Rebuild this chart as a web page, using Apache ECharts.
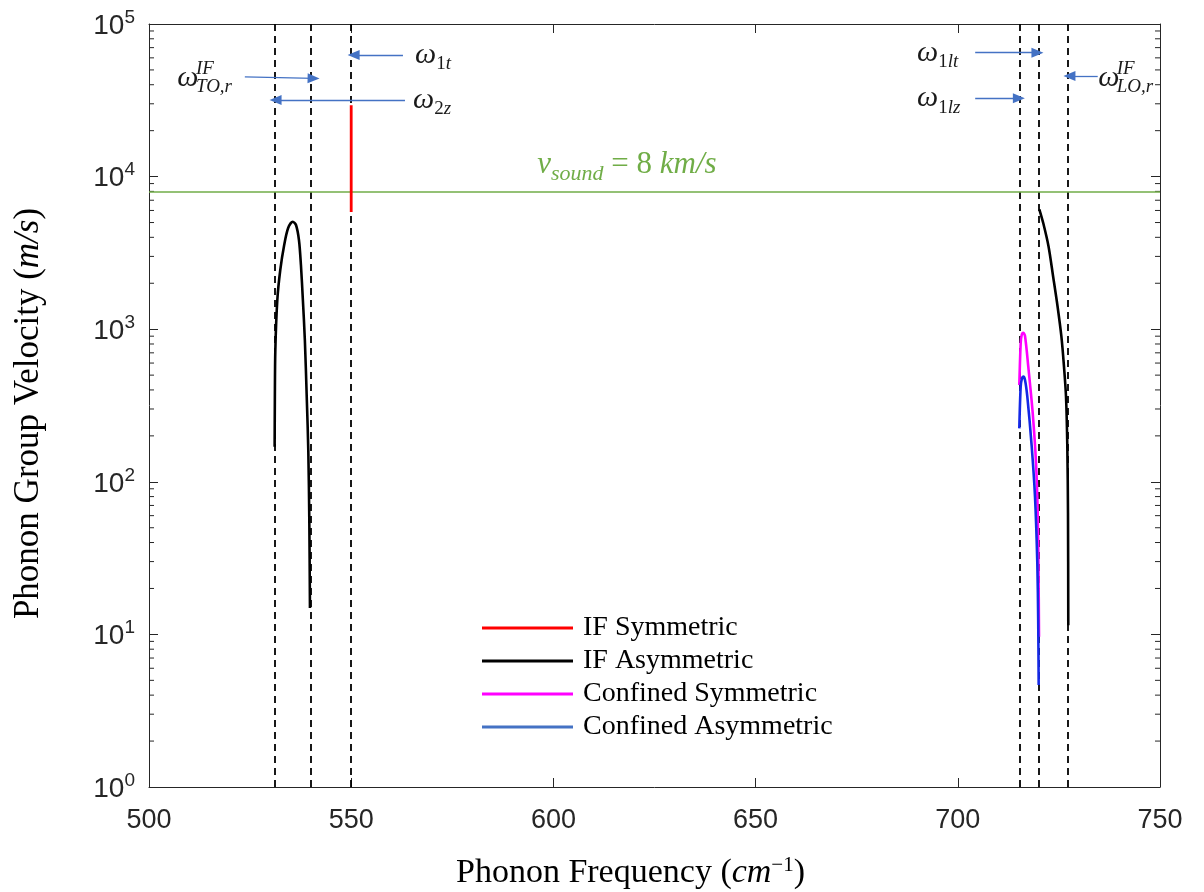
<!DOCTYPE html>
<html>
<head>
<meta charset="utf-8">
<script src="https://cdn.jsdelivr.net/npm/echarts@6/dist/echarts.min.js"></script>
<style>
html,body{margin:0;padding:0;background:#fff;}
#chart{width:1204px;height:892px;}
</style>
</head>
<body>
<div id="chart"></div>
<script>
// ---------------- DATA ----------------
const xTicks = [500, 550, 600, 650, 700, 750];
const yTickExponents = [0, 1, 2, 3, 4, 5];

// IF Symmetric (red)
const ifSymFreq = [550, 550];
const ifSymVel  = [5860, 29400];

// IF Asymmetric (black) - lower branch near 531-540
const ifAsymLowFreq = [531.07, 531.12, 531.24, 531.73, 532.46, 533.43, 534.41, 535.55, 536.35, 537.08, 537.57, 538.05, 538.54, 539.03, 539.39, 539.64, 539.8];
const ifAsymLowVel  = [170, 344, 731, 1553, 2443, 3564, 4603, 5064, 4818, 3841, 2634, 1553, 849, 344, 161, 56.2, 14.9];

// IF Asymmetric (black) - upper branch near 720-727
const ifAsymHighFreq = [720.16, 721.14, 722.45, 723.58, 724.68, 725.62, 726.26, 726.76, 727.08, 727.25, 727.32];
const ifAsymHighVel  = [6106, 4943, 3474, 2208, 1404, 893, 568, 361, 170, 62.2, 11.5];

// Confined Symmetric (magenta)
const confSymFreq = [715.21, 715.55, 715.8, 716.2, 716.62, 717.43, 718.52, 719.34, 719.76, 719.96, 720.08];
const confSymVel  = [431, 808, 916, 948, 902, 568, 283, 133, 62.5, 26.4, 9.66];

// Confined Asymmetric (blue)
const confAsymFreq = [715.21, 715.55, 715.87, 716.2, 716.62, 717.19, 718.28, 719.09, 719.66, 719.88, 720.0];
const confAsymVel  = [224, 420, 477, 489, 465, 361, 170, 79.8, 29.4, 12.4, 4.66];

// reference lines
const dashedFreqs = [531, 540, 550, 715.3, 720.1, 727.3];
const soundSpeed = 8000;

// annotation arrows: [fromFreq, fromVel, toFreq, toVel]
const arrows = [
  [562.8, 62650, 550.6, 62650],   // omega_1t
  [523.7, 45000, 540.7, 44000],   // omega_TO,r^IF
  [563.3, 31770, 531.3, 31770],   // omega_2z
  [704.3, 64860, 719.7, 64860],   // omega_1lt
  [704.3, 32600, 715.1, 32600],   // omega_1lz
  [734.6, 45620, 727.6, 45620]    // omega_LO,r^IF
];
// annotation labels: [freq, vel, subscript-digit, subscript-letters]
const omegaLabels = [
  [565.8, 62650, '1', 't'],
  [565.3, 31770, '2', 'z'],
  [689.9, 64860, '1', 'lt'],
  [689.9, 32600, '1', 'lz']
];
const omegaIFLabels = [
  [507.0, 44280, 'TO,r'],
  [734.7, 44280, 'LO,r']
];
const soundLabelPos = [596, 11900];

// ---------------- HELPERS ----------------
function pairs(xs, ys) { return xs.map((x, i) => [x, ys[i]]); }

const minorTickVals = [];
for (let e = yTickExponents[0]; e < yTickExponents[yTickExponents.length - 1]; e++) {
  for (let m = 2; m <= 9; m++) minorTickVals.push([500, m * Math.pow(10, e)]);
}

const AX = '#262626';
const serif = 'Liberation Serif';
const sans = 'Liberation Sans';
const mathRich = {
  w:  { fontFamily: serif, fontStyle: 'italic', fontSize: 30, lineHeight: 38, verticalAlign: 'middle', color: '#1a1a1a' },
  d:  { fontFamily: serif, fontSize: 19, lineHeight: 38, verticalAlign: 'bottom', color: '#1a1a1a' },
  s:  { fontFamily: serif, fontStyle: 'italic', fontSize: 19, lineHeight: 38, verticalAlign: 'bottom', color: '#1a1a1a' },
  a:  { fontFamily: serif, fontStyle: 'italic', fontSize: 19, lineHeight: 18, color: '#1a1a1a' }
};

const markPointData = [];
omegaLabels.forEach(l => {
  markPointData.push({
    coord: [l[0], l[1]], symbolSize: 0,
    label: { show: true, position: 'right', distance: 0,
      formatter: '{w|ω}{d|' + l[2] + '}{s|' + l[3] + '}', rich: mathRich }
  });
});
omegaIFLabels.forEach(l => {
  markPointData.push({
    coord: [l[0], l[1]], symbolSize: 0,
    label: { show: true, position: 'right', distance: 0,
      formatter: '{w|ω}', rich: mathRich }
  });
  markPointData.push({
    coord: [l[0] + 4.6, l[1]], symbolSize: 0,
    label: { show: true, position: 'right', distance: 0,
      formatter: '{a|IF}\n{a|' + l[2] + '}', rich: mathRich }
  });
});
const green = '#70ad47';
markPointData.push({
  coord: soundLabelPos, symbolSize: 0,
  label: { show: true, position: 'right', distance: 0,
    formatter: '{v|v}{s|sound}{t| = 8 }{v|km/s}',
    rich: {
      v: { fontFamily: serif, fontStyle: 'italic', fontSize: 31, lineHeight: 40, verticalAlign: 'middle', color: green },
      s: { fontFamily: serif, fontStyle: 'italic', fontSize: 22, lineHeight: 40, verticalAlign: 'bottom', color: green },
      t: { fontFamily: serif, fontSize: 31, lineHeight: 40, verticalAlign: 'middle', color: green }
    } }
});

const markLineData = dashedFreqs.map(f => ({
  xAxis: f, lineStyle: { color: '#000', type: [7, 5], width: 1.8 }
}));
markLineData.push({ yAxis: soundSpeed, lineStyle: { color: green, type: 'solid', width: 1.6 } });
arrows.forEach(a => {
  markLineData.push([
    { coord: [a[0], a[1]], symbol: 'none', lineStyle: { color: '#4472c4', width: 1.3, type: 'solid' } },
    { coord: [a[2], a[3]], symbol: 'triangle', symbolSize: [10, 12] }
  ]);
});

const lineCommon = { type: 'line', showSymbol: false, symbol: 'none', smooth: 0.3, z: 5, animation: false };

const option = {
  animation: false,
  backgroundColor: '#fff',
  grid: { left: 149, right: 44, top: 24, bottom: 105, containLabel: false, outerBoundsMode: 'none' },
  legend: {
    orient: 'vertical', left: 477, top: 609, icon: 'rect',
    itemWidth: 91, itemHeight: 3, itemGap: 5,
    data: [
      { name: 'IF Symmetric', itemStyle: { color: '#ff0000' } },
      { name: 'IF Asymmetric', itemStyle: { color: '#000000' } },
      { name: 'Confined Symmetric', itemStyle: { color: '#ff00ff' } },
      { name: 'Confined Asymmetric', itemStyle: { color: '#4472c4' } }
    ],
    textStyle: { fontFamily: serif, fontSize: 28, lineHeight: 28, color: '#000', padding: [0, 0, 0, 5] },
    selectedMode: false
  },
  xAxis: [{
    type: 'value', min: xTicks[0], max: xTicks[xTicks.length - 1], interval: 50,
    position: 'bottom',
    axisLine: { show: true, lineStyle: { color: AX, width: 1 } },
    axisTick: { show: true, inside: true, length: 9, lineStyle: { color: AX } },
    axisLabel: { show: true, margin: 20, fontFamily: sans, fontSize: 27, color: '#262626' },
    splitLine: { show: false },
    name: 'Phonon Frequency ({i|cm}{u|−1})',
    nameLocation: 'middle', nameGap: 68,
    nameTextStyle: {
      fontFamily: serif, fontSize: 34, color: '#000', padding: [0, 48, 0, 0],
      rich: {
        i: { fontFamily: serif, fontStyle: 'italic', fontSize: 34, color: '#000' },
        u: { fontFamily: serif, fontSize: 21, verticalAlign: 'top', lineHeight: 36, color: '#000' }
      }
    }
  }, {
    type: 'value', min: xTicks[0], max: xTicks[xTicks.length - 1], interval: 50,
    position: 'top',
    axisLine: { show: true, lineStyle: { color: AX, width: 1 } },
    axisTick: { show: true, inside: true, length: 9, lineStyle: { color: AX } },
    axisLabel: { show: false }, splitLine: { show: false }
  }],
  yAxis: [{
    type: 'log', logBase: 10, min: 1, max: 100000,
    position: 'left',
    axisLine: { show: true, lineStyle: { color: AX, width: 1 } },
    axisTick: { show: true, inside: true, length: 9, lineStyle: { color: AX } },
    axisLabel: {
      show: true, margin: 14,
      formatter: v => '{b|10}{e|' + Math.round(Math.log10(v)) + '}',
      rich: {
        b: { fontFamily: sans, fontSize: 28, lineHeight: 32, verticalAlign: 'bottom', color: '#262626' },
        e: { fontFamily: sans, fontSize: 19, lineHeight: 32, verticalAlign: 'top', color: '#262626' }
      }
    },
    splitLine: { show: false },
    name: 'Phonon Group Velocity ({i|m/s})',
    nameLocation: 'middle', nameGap: 103,
    nameTextStyle: {
      fontFamily: serif, fontSize: 35, color: '#000', padding: [0, 16, 0, 0],
      rich: { i: { fontFamily: serif, fontStyle: 'italic', fontSize: 35, color: '#000' } }
    }
  }, {
    type: 'log', logBase: 10, min: 1, max: 100000,
    position: 'right',
    axisLine: { show: true, lineStyle: { color: AX, width: 1 } },
    axisTick: { show: true, inside: true, length: 9, lineStyle: { color: AX } },
    axisLabel: { show: false }, splitLine: { show: false }
  }],
  series: [
    {
      name: '_ref', type: 'line', data: [[500, 1]], symbol: 'none', silent: true, z: 2,
      lineStyle: { opacity: 0 },
      markLine: { silent: true, symbol: 'none', animation: false, label: { show: false }, data: markLineData },
      markPoint: { silent: true, animation: false, symbol: 'circle', symbolSize: 0, itemStyle: { color: 'transparent' }, data: markPointData }
    },
    {
      name: '_minor', type: 'custom', data: minorTickVals, silent: true, z: 3, clip: false,
      renderItem: function (params, api) {
        const p = api.coord([xTicks[0], api.value(1)]);
        const r = api.coord([xTicks[xTicks.length - 1], api.value(1)]);
        return { type: 'group', children: [
          { type: 'line', shape: { x1: p[0], y1: p[1], x2: p[0] + 5, y2: p[1] }, style: { stroke: AX, lineWidth: 1 } },
          { type: 'line', shape: { x1: r[0] - 5, y1: r[1], x2: r[0], y2: r[1] }, style: { stroke: AX, lineWidth: 1 } }
        ] };
      }
    },
    Object.assign({}, lineCommon, { name: 'IF Symmetric', smooth: false, data: pairs(ifSymFreq, ifSymVel), color: '#ff0000', lineStyle: { color: '#ff0000', width: 2.8 } }),
    Object.assign({}, lineCommon, { name: 'IF Asymmetric', data: pairs(ifAsymLowFreq, ifAsymLowVel), color: '#000', lineStyle: { color: '#000', width: 2.6 } }),
    Object.assign({}, lineCommon, { name: 'IF Asymmetric', data: pairs(ifAsymHighFreq, ifAsymHighVel), color: '#000', lineStyle: { color: '#000', width: 2.6 } }),
    Object.assign({}, lineCommon, { name: 'Confined Symmetric', data: pairs(confSymFreq, confSymVel), color: '#ff00ff', lineStyle: { color: '#ff00ff', width: 2.6 } }),
    Object.assign({}, lineCommon, { name: 'Confined Asymmetric', data: pairs(confAsymFreq, confAsymVel), color: '#1428e6', lineStyle: { color: '#1428e6', width: 2.6 } })
  ]
};

const chart = echarts.init(document.getElementById('chart'), null, { renderer: 'canvas' });
chart.setOption(option);
</script>
</body>
</html>
